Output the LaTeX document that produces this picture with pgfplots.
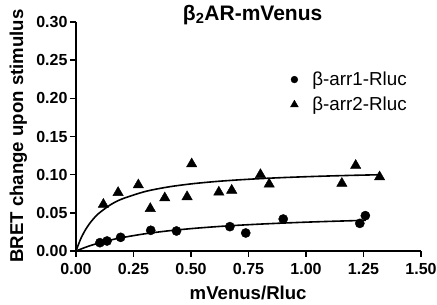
\documentclass[border=0pt]{standalone}
\usepackage{pgfplots}
\pgfplotsset{compat=1.18}
\usepackage{fontspec}
\setmainfont{Liberation Sans}
\begin{document}
\begin{tikzpicture}
\useasboundingbox (-76pt,-54pt) rectangle (361pt,251pt);
\begin{axis}[
  scale only axis, width=345pt, height=229pt,
  xmin=0, xmax=1.5, ymin=0, ymax=0.3,
  axis x line=bottom, axis y line=left,
  axis line style={-, line width=1.6pt},
  xtick={0,0.25,0.5,0.75,1,1.25,1.5},
  ytick={0,0.05,0.1,0.15,0.2,0.25,0.3},
  tick align=outside, major tick length=6pt,
  tick style={line width=1.6pt, black},
  /pgf/number format/.cd, fixed, fixed zerofill, precision=2, assume math mode=true,
  /pgfplots/.cd,
  tick label style={font=\bfseries\fontsize{16}{18}\selectfont},
  xticklabel style={yshift=-3pt},
  yticklabel style={xshift=1pt},
  xlabel={mVenus/Rluc},
  ylabel={BRET change upon stimulus},
  label style={font=\bfseries\fontsize{18.6}{21}\selectfont},
  xlabel style={at={(axis description cs:0.499,-0.212)}, anchor=base},
  ylabel style={at={(axis description cs:-0.1536,0.502)}, anchor=base},
  title style={at={(axis description cs:0.512,0.9795)}, anchor=base, yshift=0pt, font=\bfseries\fontsize{21}{23}\selectfont},
  title={β\textsubscript{2}AR-mVenus},
  legend style={draw=none, fill=none, at={(axis description cs:0.6125,0.80)}, anchor=north west,
    font=\fontsize{18.8}{21}\selectfont, row sep=6pt},
  legend cell align=left,
  clip=false,
]
\addplot[only marks, mark=*, mark size=4.6pt, black, legend image post style={mark size=3.4pt}] coordinates {
(0.104,0.0109) (0.135,0.0131) (0.194,0.0179) (0.325,0.0271) (0.437,0.0262)
(0.669,0.0319) (0.738,0.0236) (0.901,0.0419) (1.234,0.0362) (1.258,0.0463)
};
\addlegendentry{\hspace{12pt}β-arr1-Rluc}
\addplot[only marks, mark=triangle*, mark size=6pt, black, legend image post style={mark size=4.5pt}] coordinates {
(0.119,0.0610) (0.183,0.0765) (0.271,0.0865) (0.323,0.0555) (0.386,0.0695)
(0.483,0.0710) (0.503,0.1140) (0.621,0.0770) (0.677,0.0795) (0.802,0.1000)
(0.840,0.0875) (1.156,0.0885) (1.216,0.1120) (1.320,0.0970)
};
\addlegendentry{\hspace{12pt}β-arr2-Rluc}
\addplot[black, line width=1.6pt, smooth, forget plot] coordinates {
(0,0) (0.05,0.00582) (0.1,0.01049) (0.15,0.01433) (0.2,0.01752) (0.3,0.02256)
(0.4,0.02635) (0.5,0.0293) (0.6,0.03167) (0.7,0.03361) (0.8,0.03522)
(0.9,0.03659) (1.0,0.03777) (1.1,0.03878) (1.2,0.03968) (1.26,0.04016)
};
\addplot[black, line width=1.6pt, smooth, forget plot] coordinates {
(0,0) (0.02,0.01557) (0.04,0.02725) (0.06,0.03633) (0.08,0.0436) (0.1,0.04955)
(0.15,0.06056) (0.2,0.06813) (0.3,0.07786) (0.4,0.08385) (0.5,0.0879)
(0.6,0.09083) (0.7,0.09305) (0.8,0.09478) (0.9,0.09618) (1.0,0.09732)
(1.1,0.09828) (1.2,0.09909) (1.32,0.09992)
};
\end{axis}
\end{tikzpicture}
\end{document}
